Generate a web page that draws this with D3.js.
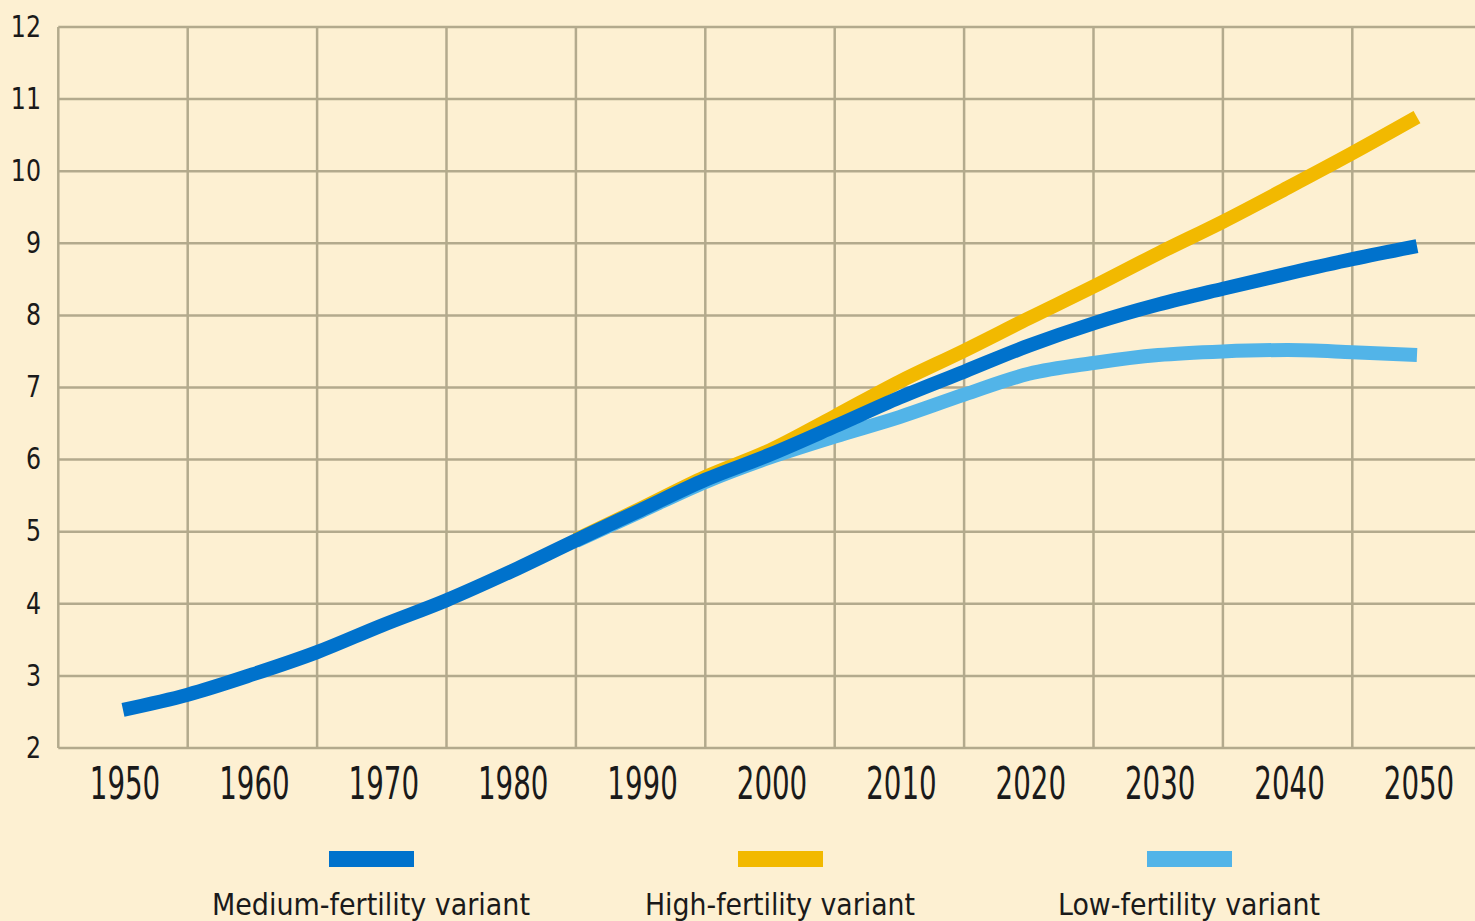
<!DOCTYPE html>
<html>
<head>
<meta charset="utf-8">
<script src="https://cdn.jsdelivr.net/npm/d3@7"></script>
<style>
  html, body { margin: 0; padding: 0; background: #fdf0d2; }
  svg { display: block; }
  text { font-family: "Liberation Sans Narrow", "DejaVu Sans Condensed", "Liberation Sans", sans-serif; fill: #1a1a1a; }
</style>
</head>
<body>
<svg id="chart"></svg>
<script>
// world population, billions
var years = [1950, 1955, 1960, 1965, 1970, 1975, 1980, 1985, 1990, 1995, 2000,
             2005, 2010, 2015, 2020, 2025, 2030, 2035, 2040, 2045, 2050];
var medium = [2.53, 2.74, 3.02, 3.33, 3.70, 4.05, 4.45, 4.88, 5.30, 5.72, 6.07,
              6.46, 6.86, 7.22, 7.58, 7.89, 8.15, 8.37, 8.58, 8.78, 8.96];

// projections only split off near the end of the century
var projYears = [1985, 1990, 1995, 2000, 2005, 2010, 2015, 2020, 2025, 2030, 2035, 2040, 2045, 2050];
var high = [4.89, 5.32, 5.76, 6.13, 6.60, 7.08, 7.51, 7.96, 8.40, 8.86, 9.30, 9.77, 10.25, 10.75];
var low  = [4.87, 5.28, 5.69, 6.03, 6.32, 6.59, 6.90, 7.19, 7.34, 7.45, 7.50, 7.52, 7.49, 7.45];

var yTicks = [2, 3, 4, 5, 6, 7, 8, 9, 10, 11, 12];
var xTicks = [1950, 1960, 1970, 1980, 1990, 2000, 2010, 2020, 2030, 2040, 2050];
var gridYears = [1945, 1955, 1965, 1975, 1985, 1995, 2005, 2015, 2025, 2035, 2045];

var legendNames = ['Medium-fertility variant', 'High-fertility variant', 'Low-fertility variant'];
var colors = ['#0072cc', '#f2b900', '#52b4e8'];

var width = 1475, height = 921;

var svg = d3.select('#chart')
  .attr('width', width)
  .attr('height', height);

var x = d3.scaleLinear().domain([1950, 2050]).range([123, 1417]);
var y = d3.scaleLinear().domain([2, 12]).range([748, 27]);

// grid
var grid = svg.append('g').attr('stroke', '#b3aa8d').attr('stroke-width', 2.5);
grid.selectAll('.hline')
  .data(yTicks)
  .enter().append('line')
  .attr('x1', x(1945)).attr('x2', width)
  .attr('y1', function(d) { return y(d); })
  .attr('y2', function(d) { return y(d); });
grid.selectAll('.vline')
  .data(gridYears)
  .enter().append('line')
  .attr('x1', function(d) { return x(d); })
  .attr('x2', function(d) { return x(d); })
  .attr('y1', y(12)).attr('y2', y(2));

// y labels
svg.append('g').selectAll('text')
  .data(yTicks)
  .enter().append('text')
  .attr('transform', function(d) { return 'translate(41,' + (y(d) - 1) + ') scale(0.85,1)'; })
  .attr('text-anchor', 'end')
  .attr('dominant-baseline', 'central')
  .attr('font-size', 31)
  .text(function(d) { return d; });

// x labels, tall and narrow
svg.append('g').selectAll('text')
  .data(xTicks)
  .enter().append('text')
  .attr('transform', function(d) { return 'translate(' + (x(d) + 2) + ',799) scale(0.7,1)'; })
  .attr('text-anchor', 'middle')
  .attr('font-size', 44)
  .text(function(d) { return d; });

var line = d3.line()
  .x(function(d) { return x(d[0]); })
  .y(function(d) { return y(d[1]); })
  .curve(d3.curveMonotoneX);

var series = [
  { pts: d3.zip(projYears, low), color: colors[2] },
  { pts: d3.zip(projYears, high), color: colors[1] },
  { pts: d3.zip(years, medium), color: colors[0] }
];

svg.append('g').selectAll('path')
  .data(series)
  .enter().append('path')
  .attr('d', function(d) { return line(d.pts); })
  .attr('fill', 'none')
  .attr('stroke', function(d) { return d.color; })
  .attr('stroke-width', 14)
  .attr('stroke-linecap', 'butt');

// legend
var legendX = [371, 780, 1189];
var legendW = [318, 270, 262];
var lg = svg.append('g').selectAll('g')
  .data(legendNames)
  .enter().append('g')
  .attr('transform', function(d, i) { return 'translate(' + legendX[i] + ',0)'; });

lg.append('rect')
  .attr('x', -42).attr('y', 851)
  .attr('width', 85).attr('height', 16)
  .attr('fill', function(d, i) { return colors[i]; });

lg.append('text')
  .attr('x', 0).attr('y', 915)
  .attr('text-anchor', 'middle')
  .attr('font-size', 31)
  .attr('textLength', function(d, i) { return legendW[i]; })
  .attr('lengthAdjust', 'spacingAndGlyphs')
  .text(function(d) { return d; });
</script>
</body>
</html>
